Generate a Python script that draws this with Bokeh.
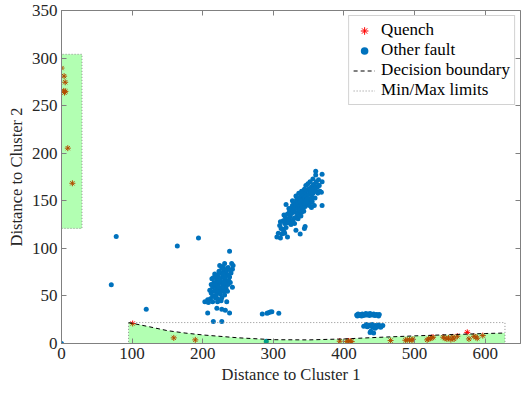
from bokeh.plotting import figure
from bokeh.models import Range1d, LinearAxis, FixedTicker, CustomJSTickFormatter, Legend, LegendItem
from bokeh.embed import file_html
from bokeh.resources import INLINE

# ---------------- data ----------------
quench_x = [0, 3.7, 5.2, 4.2, 5.5, 3.2, 8.9, 15.4, 100.8, 159, 189.5, 290,
            394, 404, 406.6, 409, 411, 466, 487, 489.6, 492.9, 496.2, 497.6,
            517.8, 520, 522.4, 524.2, 526.2, 540.6, 543, 545.8, 548, 551.4, 554.2,
            560.6, 556, 574.6, 577, 584, 586.8, 588.7, 596.6]
quench_y = [289.5, 281, 274.6, 263.7, 265, 265.5, 205.3, 168.4, 21, 5.9, 3.8, -1.4,
            2.4, 2.2, 2.6, 2.4, 2.0, 3.1, 3.4, 4.0, 3.7, 3.4, 4.4,
            3.8, 4.8, 5.5, 6.2, 6.6, 6.6, 5.5, 4.8, 5.9, 4.1, 6.9,
            7.6, 4.8, 11.7, 4.8, 7.6, 6.9, 5.5, 8.3]

misc_x = [0, 77.5, 70.5, 120, 164, 194, 284.3, 291, 293, 295.5, 297.9, 307.7, 290]
misc_y = [0, 112.5, 61.8, 36, 102.5, 111, 31, 31.8, 32.4, 33.1, 33.4, 31.8, 2.4]

c1_x = [238, 224, 229, 236, 241, 243, 242, 233, 230, 226, 222, 219, 235, 238, 240, 228, 224, 220, 216, 231,
        234, 237, 226, 222, 218, 214, 229, 232, 236, 224, 220, 227, 230, 216, 212, 222, 225, 219, 214, 233,
        235, 239, 242, 210, 228, 218, 221, 211, 207, 203, 208, 214, 221, 227, 234, 207, 220, 227, 232, 238,
        215, 227, 223, 227, 231, 217, 213, 229, 234, 239, 221, 225, 232, 217, 212, 230, 215, 223, 231, 226]
c1_y = [97, 82, 81, 80, 84, 82, 78, 75, 77, 74, 72, 70, 72, 70, 74, 70, 68, 66, 64, 67,
        66, 66, 64, 62, 60, 59, 62, 60, 62, 58, 57, 56, 55, 55, 53, 54, 52, 51, 50, 58,
        55, 64, 59, 56, 59, 48, 47, 47, 46, 44, 43, 44, 44, 48, 44, 32, 37, 36, 35, 32,
        23, 23, 76, 79, 84, 73, 68, 73, 78, 77, 61, 66, 70, 62, 62, 64, 69, 59, 51, 45]

c2_x = [305, 307, 310, 312, 313, 309, 315, 316, 318, 314, 319, 321, 317, 320, 322, 324, 323, 326, 325, 328,
        327, 330, 329, 331, 332, 333, 334, 335, 336, 337, 338, 339, 340, 341, 342, 343, 344, 345, 346, 347,
        348, 349, 350, 351, 352, 353, 354, 355, 356, 357, 358, 359, 360, 361, 362, 363, 364, 365, 366, 368,
        369, 369, 360, 369, 360, 346, 357, 364, 332, 338, 344, 345, 330, 318, 320, 325, 328, 333, 336, 340,
        342, 345, 348, 350, 353, 355, 358, 310, 315, 322, 327, 332, 336, 340, 344, 348, 351, 354, 326, 330,
        334, 337, 341, 344, 347, 335, 339, 343, 352, 356, 349, 311, 316]
c2_y = [112, 116, 111, 115, 120, 124, 118, 126, 122, 129, 130, 127, 133, 136, 131, 134, 139, 137, 142, 140,
        145, 143, 148, 138, 146, 151, 142, 147, 153, 144, 149, 155, 146, 151, 157, 148, 153, 159, 150, 155,
        161, 152, 157, 163, 148, 160, 155, 165, 158, 162, 167, 153, 160, 170, 164, 158, 172, 166, 160, 159,
        145, 170, 177, 178, 181, 166, 167, 166, 119, 115, 121, 123, 126, 146, 112, 125, 130, 133, 136, 138,
        141, 144, 146, 150, 152, 149, 145, 128, 135, 142, 150, 155, 158, 160, 162, 152, 145, 143, 128, 132,
        137, 140, 143, 147, 149, 131, 134, 139, 170, 173, 168, 121, 116]

band_x = [418, 420, 422, 424, 426, 428, 430, 432, 434, 436, 438, 440, 442, 444, 446, 448, 450, 419, 425, 431, 437, 443, 449,
          428, 431, 433, 435, 437, 439, 441, 443, 445, 447, 449, 451, 453, 455, 432, 440, 446, 452, 437, 442, 438, 444]
band_y = [30, 31, 29.5, 30.5, 31, 29.5, 30.5, 30, 31, 29.5, 30.5, 30, 31, 29.5, 30.5, 30, 30.5, 29, 29, 31.5, 31.5, 30, 29,
          18, 19, 17.5, 18.5, 19.5, 18, 17, 18.5, 19, 18, 19.5, 18.5, 18, 19, 20, 20, 17, 17, 11.5, 11, 13, 16]

boundary_x = [95, 125, 150, 175, 200, 250, 300, 350, 400, 450, 500, 550, 600, 628]
boundary_y = [22, 17.5, 13.5, 11, 9, 6, 4, 3.8, 4.8, 6.5, 8, 9.3, 10.5, 11]

# min/max limit rectangles: [cluster A, cluster B]
lim_x0 = [0, 95]
lim_x1 = [29, 628]
lim_y0 = [121, 0]
lim_y1 = [304, 22]

x_ticks = [0, 100, 200, 300, 400, 500, 600]
y_ticks = [0, 50, 100, 150, 200, 250, 300, 350]

# ---------------- figure ----------------
FONT = "Liberation Serif"
AX = "#808080"
TXT = "#262626"

p = figure(width=523, height=386, output_backend="svg", toolbar_location=None,
           x_range=Range1d(0, 650), y_range=Range1d(0, 350),
           min_border_left=61, min_border_right=3, min_border_top=10, min_border_bottom=40)
p.grid.visible = False
p.outline_line_color = AX
p.background_fill_color = "white"

for ax, ticks in ((p.xaxis[0], x_ticks), (p.yaxis[0], y_ticks)):
    ax.ticker = FixedTicker(ticks=ticks)
    ax.major_tick_in = 5
    ax.major_tick_out = 0
    ax.minor_tick_line_color = None
    ax.axis_line_color = AX
    ax.major_tick_line_color = AX
    ax.major_label_text_font = FONT
    ax.major_label_text_font_size = "17px"
    ax.major_label_text_color = TXT
    ax.axis_label_text_font = FONT
    ax.axis_label_text_font_size = "16.5px"
    ax.axis_label_text_font_style = "normal"
    ax.axis_label_text_color = TXT
    ax.major_label_standoff = 4
    ax.axis_label_standoff = 3

p.xaxis.axis_label = "Distance to Cluster 1"
p.yaxis.axis_label = "Distance to Cluster 2"

blank = CustomJSTickFormatter(code="return '';")
top = LinearAxis(ticker=FixedTicker(ticks=x_ticks), formatter=blank, major_tick_in=5, major_tick_out=0,
                 minor_tick_line_color=None, axis_line_color=None, major_tick_line_color=AX,
                 major_label_standoff=0, major_label_text_font_size="1px")
right = LinearAxis(ticker=FixedTicker(ticks=y_ticks), formatter=blank, major_tick_in=5, major_tick_out=0,
                   minor_tick_line_color=None, axis_line_color=None, major_tick_line_color=AX,
                   major_label_standoff=0, major_label_text_font_size="1px")
p.add_layout(top, "above")
p.add_layout(right, "right")

# points
r_q = p.scatter(quench_x, quench_y, marker="asterisk", size=6, line_color="#FF0000", line_width=1)
other_x = misc_x + c1_x + c2_x + band_x
other_y = misc_y + c1_y + c2_y + band_y
r_o = p.scatter(other_x, other_y, marker="circle", size=5, fill_color="#0072BD", line_color=None)

# green decision regions (drawn over the points, semi-transparent)
p.quad(left=[lim_x0[0]], right=[lim_x1[0]], bottom=[lim_y0[0]], top=[lim_y1[0]],
       fill_color="#00FF00", fill_alpha=0.3, line_color=None)
p.varea(x=boundary_x, y1=[0] * len(boundary_x), y2=boundary_y, fill_color="#00FF00", fill_alpha=0.3)

# min/max limits (dotted rectangles)
rect_xs = [[a, b, b, a, a] for a, b in zip(lim_x0, lim_x1)]
rect_ys = [[c, c, d, d, c] for c, d in zip(lim_y0, lim_y1)]
r_lim = p.multi_line(rect_xs, rect_ys, line_color="#8c8c8c", line_dash="1 2", line_width=1)

# decision boundary
r_db = p.line(boundary_x, boundary_y, line_color="black", line_dash="4 3", line_width=1)

legend = Legend(items=[
    LegendItem(label="Quench", renderers=[r_q]),
    LegendItem(label="Other fault", renderers=[r_o]),
    LegendItem(label="Decision boundary", renderers=[r_db]),
    LegendItem(label="Min/Max limits", renderers=[r_lim]),
], location="top_right")
legend.margin = 5
legend.padding = 4
legend.spacing = 0
legend.label_height = 19
legend.glyph_height = 19
legend.glyph_width = 22
legend.label_standoff = 6
legend.label_text_font = FONT
legend.label_text_font_size = "17px"
legend.label_text_color = "black"
legend.border_line_color = "#a6a6a6"
legend.border_line_width = 1
legend.background_fill_color = "white"
legend.background_fill_alpha = 1
p.add_layout(legend)

open("out.html", "w").write(file_html(p, INLINE))
